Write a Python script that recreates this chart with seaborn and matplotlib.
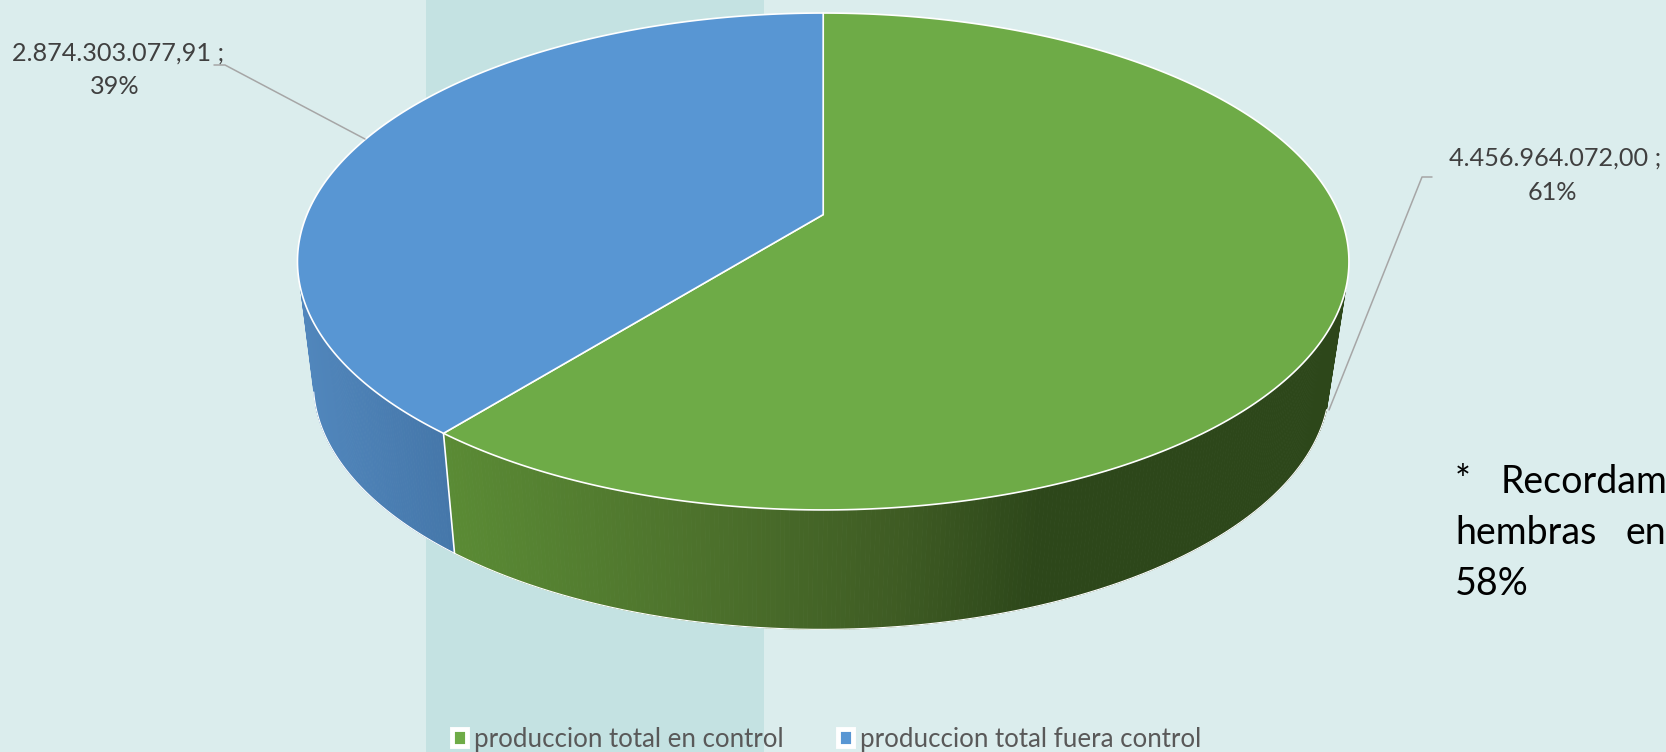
### Bibliotecas
import numpy as np
import matplotlib
matplotlib.use("Agg")
import matplotlib.pyplot as plt
import matplotlib.colors as mcolors
from matplotlib.patches import Polygon, Rectangle, Patch
import seaborn as sns

### Dados
categorias = ["produccion total en control", "produccion total fuera control"]
valores = [4456964072.00, 2874303077.91]
etiquetas_valor = ["4.456.964.072,00 ;", "2.874.303.077,91 ;"]
etiquetas_pct = ["61%", "39%"]

### Estilo
sns.set_theme(style = "white")
plt.rcParams["font.family"] = ["Lato", "DejaVu Sans"]
paleta = sns.color_palette(["#6EAB47", "#5896D3"])
fundo = "#DBEDED"
faixa = "#C4E2E2"

# degradê da parede lateral: (x em pixels, cor)
grad_verde_x = [445, 700, 900, 1030, 1400]
grad_verde_c = ["#5B8C35", "#4D722C", "#3E5B23", "#2D471A", "#2D471A"]
grad_azul_x = [300, 454]
grad_azul_c = ["#5288BE", "#4577AA"]

### Geometria do disco em perspectiva (coordenadas em pixels)
k = 0.1887
def projeta(t, cx, cy, a, b):
    u, v = np.cos(t), np.sin(t)
    w = 1 + k * v
    return cx + a * u / w, cy - b * v / w

def topo(t):
    return projeta(t, 823.2, 214.6, 516.3, 239.6)

def base(t):
    return projeta(t, 821.5, 336.0, 499.0, 238.0)

def cor_grad(x, xs, cs):
    rgb = np.array([mcolors.to_rgb(c) for c in cs])
    return [np.interp(x, xs, rgb[:, i]) for i in range(3)]

### Figura
fig, ax = plt.subplots(figsize = (16.66, 7.52), dpi = 100, facecolor = fundo)
ax.set_position([0, 0, 1, 1])
wedges, _ = ax.pie(valores, colors = paleta, startangle = 90, counterclock = False, radius = 1)
angulos = [(np.radians(w.theta1), np.radians(w.theta2)) for w in wedges]
for w in wedges:
    w.remove()
ax.set_aspect("auto")
ax.set_xlim(0, 1666)
ax.set_ylim(752, 0)
ax.axis("off")

# faixa de fundo
ax.add_patch(Rectangle((426.5, 0), 337.5, 752, color = faixa, lw = 0, zorder = 1))

# ângulo da divisão entre as fatias (o mesmo ponto nas duas)
corte = angulos[0][0] if abs(np.sin(angulos[0][0]) - 1) > 1e-6 else angulos[0][1]
corte = corte % (2 * np.pi)

# paredes
t_dir = np.radians(90 - 107) % (2 * np.pi)
t_esq = np.radians(90 - 253) % (2 * np.pi)
t_fim = np.radians(90 - 257) % (2 * np.pi)
partes = [(np.linspace(t_dir, corte, 260), grad_verde_x, grad_verde_c),
          (np.linspace(corte, t_esq, 90), grad_azul_x, grad_azul_c)]
for ts, xs, cs in partes:
    xt, yt = topo(ts)
    xb, yb = base(ts)
    for i in range(len(ts) - 1):
        cor = cor_grad((xb[i] + xb[i + 1]) / 2, xs, cs)
        ax.add_patch(Polygon([(xt[i], yt[i]), (xt[i + 1], yt[i + 1]), (xb[i + 1], yb[i + 1]), (xb[i], yb[i])],
                             facecolor = cor, edgecolor = cor, lw = 0.6, zorder = 2))
    ax.plot(xb, yb, color = "white", lw = 0.8, zorder = 2.5)

# fecho da parede azul: a aresta esquerda é reta
ts_fim = np.linspace(t_esq, t_fim, 12)
xb, yb = base(ts_fim)
xt, yt = topo(t_esq)
cor = cor_grad(xb[0], grad_azul_x, grad_azul_c)
ax.add_patch(Polygon(np.r_[[[xt, yt]], np.c_[xb, yb]], closed = True, facecolor = cor, edgecolor = cor,
                     lw = 0.6, zorder = 2))
ax.plot(xb, yb, color = "white", lw = 0.8, zorder = 2.5)

# linha branca na divisão da parede
xa, ya = topo(corte)
xc, yc = base(corte)
ax.plot([xa, xc], [ya, yc], color = "white", lw = 1.2, zorder = 2.6)

# face superior
for (t1, t2), cor in zip(angulos, paleta):
    ts = np.linspace(t1, t2, 300)
    x, y = topo(ts)
    ax.add_patch(Polygon(np.r_[[[823.2, 214.6]], np.c_[x, y]], closed = True, facecolor = cor,
                         edgecolor = "white", lw = 1.2, joinstyle = "round", zorder = 3))

# linhas de chamada
ax.plot([1432, 1422, 1329], [177, 177, 410], color = "#A6A6A6", lw = 1.1, zorder = 4)
ax.plot([214, 225, 365], [65, 65, 139], color = "#A6A6A6", lw = 1.1, zorder = 4)

# rótulos
rotulo = dict(color = "#404040", fontsize = 18.2, ha = "center", va = "center", zorder = 5)
ax.text(1555, 158, etiquetas_valor[0], **rotulo)
ax.text(1552, 193, etiquetas_pct[0], **rotulo)
ax.text(118, 53, etiquetas_valor[1], **rotulo)
ax.text(115, 86, etiquetas_pct[1], **rotulo)

# nota (no original segue além da borda direita)
nota = dict(color = "black", fontsize = 27, ha = "left", va = "baseline", zorder = 5)
ax.text(1455, 493, "*", **nota)
ax.text(1501, 493, "Recordam", **nota)
ax.text(1455, 544, "hembras", **nota)
ax.text(1626, 544, "en", **nota)
ax.text(1455, 595, "58%", **nota)

# legenda
alcas = [Patch(facecolor = c, edgecolor = "white", lw = 3.5) for c in paleta]
ax.legend(alcas, categorias, loc = "center left", bbox_to_anchor = (452, 739),
          bbox_transform = ax.transData, ncols = 2, frameon = False, fontsize = 18.6,
          labelcolor = "#595959", handlelength = 0.58, handleheight = 0.62, handletextpad = 0.28,
          columnspacing = 2.1, borderpad = 0, borderaxespad = 0)

fig.savefig("out.png", dpi = 100, facecolor = fundo)
